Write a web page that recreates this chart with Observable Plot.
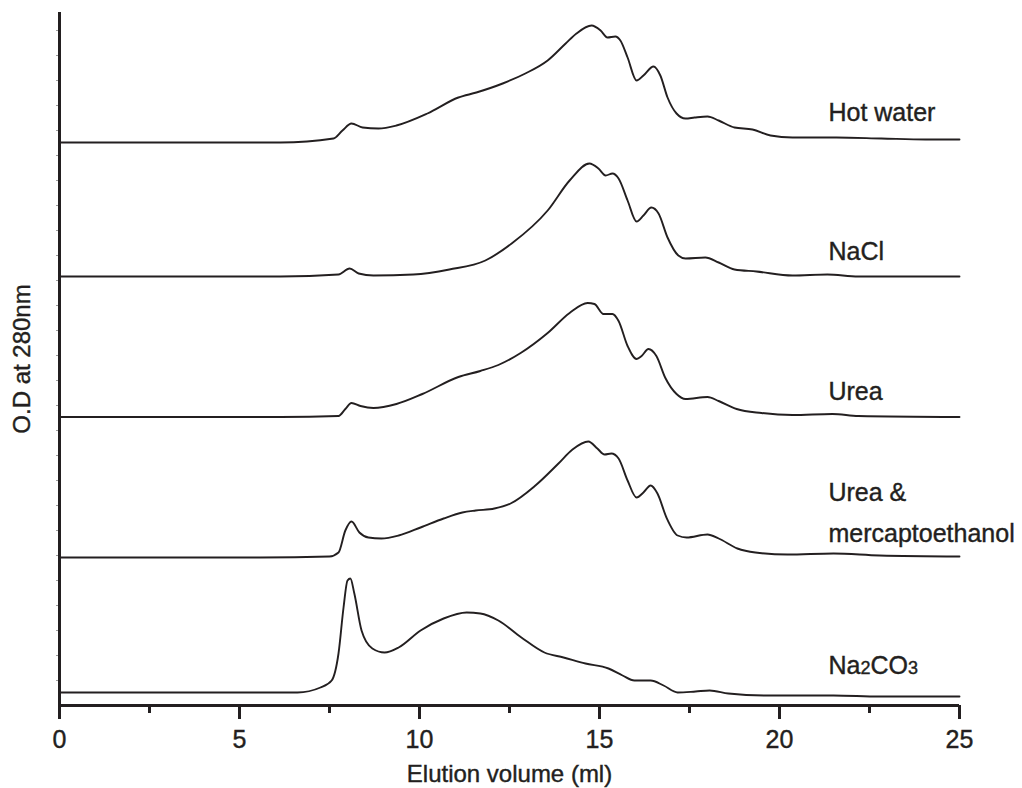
<!DOCTYPE html>
<html>
<head>
<meta charset="utf-8">
<script src="https://cdn.jsdelivr.net/npm/d3@7"></script>
<script src="https://cdn.jsdelivr.net/npm/@observablehq/plot@0.6"></script>
<style>
  body { margin: 0; background: #fff; }
  #chart svg { display: block; }
  #chart svg text { stroke: #231f20; stroke-width: 0.4px; }
</style>
</head>
<body>
<div id="chart"></div>
<script>
// ---- Data (elution volume in ml, O.D. above each trace's baseline) ----
const seriesNames = ["Hot water", "NaCl", "Urea", "Urea &\nmercaptoethanol", "Na2CO3"];
const seriesOffsets = [5.63, 4.29, 2.885, 1.48, 0.13];
const labelX = 21.36;
const labelY = [5.98, 4.59, 3.19, 1.975, 0.45];

const hotWater = [[0,0],[6.14,0],[7.61,0.04],[7.86,0.12],[8.11,0.19],[8.42,0.15],[8.86,0.14],[9.36,0.17],[10.22,0.29],[11.08,0.45],[11.58,0.50],[12.31,0.59],[12.94,0.69],[13.56,0.82],[14.06,0.99],[14.36,1.09],[14.78,1.17],[15.03,1.12],[15.22,1.05],[15.44,1.06],[15.58,1.02],[15.78,0.85],[16.03,0.62],[16.22,0.67],[16.50,0.76],[16.69,0.67],[16.89,0.45],[17.14,0.29],[17.39,0.24],[17.64,0.25],[18.0,0.26],[18.31,0.22],[18.75,0.15],[19.25,0.13],[19.75,0.07],[20.36,0.05],[21.58,0.05],[22.83,0.04],[24.06,0.03],[25,0.03]];

const naCl = [[0,0],[6.14,0],[7.75,0.02],[8.06,0.08],[8.31,0.03],[8.72,0.01],[9.83,0.02],[10.83,0.07],[11.83,0.16],[12.56,0.33],[13.56,0.66],[14.17,0.96],[14.72,1.13],[14.97,1.08],[15.17,1.01],[15.36,1.03],[15.53,0.98],[15.78,0.76],[16.03,0.55],[16.22,0.61],[16.44,0.69],[16.64,0.63],[16.89,0.39],[17.19,0.21],[17.39,0.18],[17.94,0.19],[18.31,0.14],[18.75,0.07],[19.36,0.05],[20.36,0.01],[21.33,0.02],[22.19,0],[25,0]];

const urea = [[0,0],[6.14,0],[7.75,0.01],[7.94,0.08],[8.11,0.14],[8.36,0.11],[8.72,0.09],[9.36,0.13],[10.08,0.23],[11.08,0.40],[11.69,0.46],[12.19,0.52],[12.81,0.64],[13.56,0.84],[14.17,1.04],[14.67,1.14],[14.86,1.13],[15.11,1.03],[15.36,1.03],[15.53,0.96],[15.78,0.71],[16.03,0.58],[16.17,0.61],[16.36,0.68],[16.58,0.61],[16.83,0.39],[17.14,0.23],[17.39,0.18],[18.0,0.20],[18.31,0.16],[18.81,0.08],[19.5,0.04],[20.36,0.02],[21.47,0.03],[22.19,0.01],[25,0]];

const ureaMercapto = [[0,0],[5.58,0],[7.5,0.01],[7.75,0.05],[7.94,0.27],[8.11,0.36],[8.33,0.25],[8.58,0.20],[8.94,0.19],[9.42,0.22],[10.03,0.30],[10.67,0.39],[11.19,0.45],[11.56,0.47],[12.08,0.49],[12.53,0.54],[13.22,0.72],[13.86,0.94],[14.25,1.08],[14.69,1.16],[14.94,1.09],[15.14,1.03],[15.33,1.04],[15.53,0.99],[15.78,0.77],[16.03,0.60],[16.22,0.65],[16.42,0.72],[16.61,0.64],[16.86,0.40],[17.17,0.22],[17.42,0.20],[18.0,0.23],[18.31,0.19],[18.83,0.09],[19.33,0.05],[20.22,0.03],[21.5,0.04],[22.78,0.02],[25,0.01]];

const naCarbonate = [[0,0],[5.58,0],[6.61,0],[7.25,0.05],[7.56,0.12],[7.75,0.39],[7.89,0.85],[8.0,1.12],[8.08,1.14],[8.19,0.99],[8.39,0.62],[8.69,0.44],[9.03,0.40],[9.42,0.45],[10.03,0.62],[10.67,0.74],[11.31,0.80],[11.69,0.79],[12.19,0.72],[12.83,0.55],[13.47,0.40],[14.0,0.35],[14.61,0.29],[15.25,0.24],[15.64,0.17],[15.97,0.12],[16.42,0.12],[16.78,0.07],[17.17,0.0],[17.67,0.01],[18.06,0.02],[18.58,-0.01],[19.58,-0.03],[21.5,-0.03],[22.78,-0.04],[25,-0.04]];

const xMajorTicks = [0, 5, 10, 15, 20, 25];
const xMinorTicks = [2.5, 7.5, 12.5, 17.5, 22.5];
const yMinorTicks = d3.range(0.25, 6.9, 0.25);
const xLabel = "Elution volume (ml)";
const yLabel = "O.D at 280nm";

// ---- Build table ----
const traces = [hotWater, naCl, urea, ureaMercapto, naCarbonate];
const rows = traces.flatMap((pts, i) =>
  pts.map(([ml, od]) => ({series: seriesNames[i], ml, y: od + seriesOffsets[i]}))
);
const labels = seriesNames.map((name, i) => ({name, x: labelX, y: labelY[i]}));

const ink = "#231f20";
const chart = Plot.plot({
  width: 1022,
  height: 788,
  marginTop: 12,
  marginRight: 63,
  marginBottom: 83,
  marginLeft: 59,
  x: {domain: [0, 25]},
  y: {domain: [0, 6.93]},
  style: {fontFamily: "'Liberation Sans', Arial, sans-serif", fontSize: "25px", color: ink, background: "#fff", overflow: "visible"},
  marks: [
    Plot.line(rows, {x: "ml", y: "y", z: "series", stroke: ink, strokeWidth: 1.9, curve: "monotone-x"}),
    Plot.axisY(yMinorTicks, {tickSize: 3, strokeWidth: 1, stroke: "#999", tickFormat: () => "", label: null}),
    Plot.axisX(xMajorTicks, {tickSize: 14, tickPadding: 11, strokeWidth: 3, stroke: ink, fontSize: 25, label: null}),
    Plot.axisX(xMinorTicks, {tickSize: 8, strokeWidth: 3, stroke: ink, tickFormat: () => "", label: null}),
    Plot.ruleY([0], {stroke: ink, strokeWidth: 3}),
    Plot.ruleX([0], {stroke: ink, strokeWidth: 3}),
    Plot.text(labels, {x: "x", y: "y", text: "name", textAnchor: "start", lineAnchor: "middle", lineHeight: 1.64, fontSize: 25, fill: ink}),
    Plot.text([xLabel], {frameAnchor: "bottom", dy: 69, lineAnchor: "middle", fontSize: 24, fill: ink}),
    Plot.text([yLabel], {frameAnchor: "left", dx: -37, rotate: -90, textAnchor: "middle", lineAnchor: "middle", fontSize: 24, fill: ink})
  ]
});

// Render subscripts in the Na2CO3 label as real text
chart.querySelectorAll("text").forEach(t => {
  if (t.textContent === "Na2CO3") {
    t.innerHTML = 'Na<tspan font-size="0.72em">2</tspan>CO<tspan font-size="0.72em">3</tspan>';
  }
});

document.getElementById("chart").append(chart);
</script>
</body>
</html>
